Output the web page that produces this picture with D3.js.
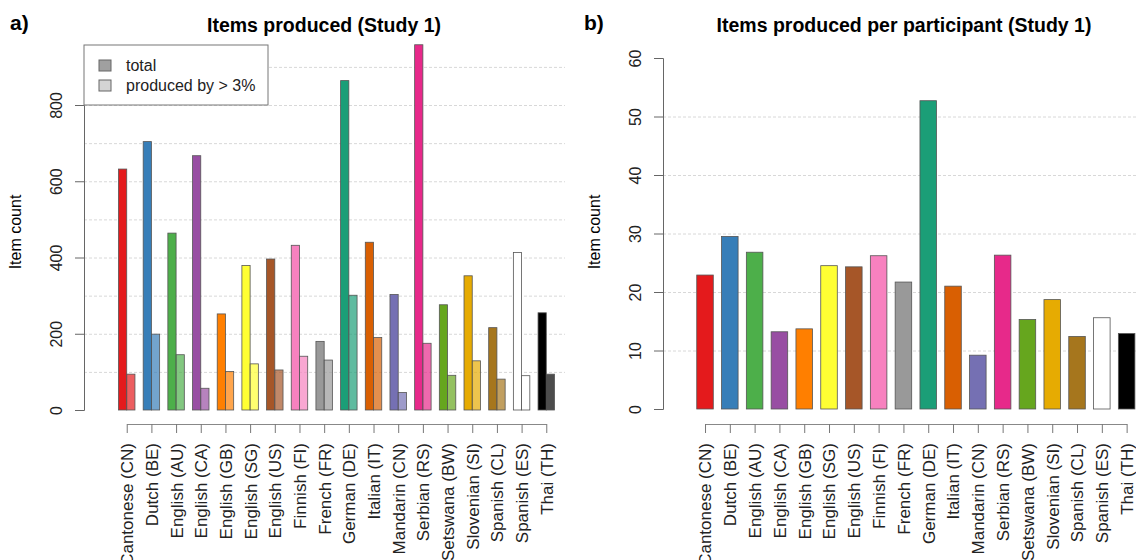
<!DOCTYPE html>
<html>
<head>
<meta charset="utf-8">
<style>
  body { margin: 0; background: #fff; }
  text { font-family: "Liberation Sans", Arial, sans-serif; }
</style>
</head>
<body>
<svg width="1136" height="560"></svg>
<script src="https://d3js.org/d3.v7.min.js"></script>
<script>
    // languages / samples
    var languages = ["Cantonese (CN)", "Dutch (BE)", "English (AU)", "English (CA)", "English (GB)",
        "English (SG)", "English (US)", "Finnish (FI)", "French (FR)", "German (DE)", "Italian (IT)",
        "Mandarin (CN)", "Serbian (RS)", "Setswana (BW)", "Slovenian (SI)", "Spanish (CL)",
        "Spanish (ES)", "Thai (TH)"];

    var colors = ["#E41A1C", "#377EB8", "#4DAF4A", "#984EA3", "#FF7F00", "#FFFF33", "#A65628",
        "#F781BF", "#999999", "#1B9E77", "#D95F02", "#7570B3", "#E7298A", "#66A61E", "#E6AB02",
        "#A6761D", "#FFFFFF", "#000000"];

    // panel a: total items and items produced by > 3%
    var totalItems = [632, 704, 464, 667, 252, 379, 396, 432, 180, 864, 440, 303, 958, 276, 352, 216, 413, 255];
    var commonItems = [94, 199, 145, 57, 101, 121, 105, 141, 131, 301, 190, 46, 175, 91, 129, 81, 90, 94];

    // panel b: items per participant
    var perParticipant = [22.9, 29.5, 26.8, 13.2, 13.7, 24.5, 24.3, 26.2, 21.7, 52.7, 21.0, 9.2, 26.3, 15.3, 18.7, 12.4, 15.6, 12.9];

    var ticksA = [0, 200, 400, 600, 800];
    var gridA = [100, 200, 300, 400, 500, 600, 700, 800, 900];
    var ticksB = [0, 10, 20, 30, 40, 50, 60];
    var gridB = [10, 20, 30, 40, 50];

    var legendLabels = ["total", "produced by > 3%"];
    var legendFills = ["#a0a0a0", "#d4d4d4"];

    var svg = d3.select("svg");

    // ---------- panel a ----------
    var yA = d3.scaleLinear().domain([0, 800]).range([410, 105]);
    var xA = d3.scaleBand().domain(languages).range([118.5, 554.5]).paddingInner(1 / 3).paddingOuter(0);
    var subA = d3.scaleBand().domain(["total", "common"]).range([0, xA.bandwidth()]);

    var gA = svg.append("g");

    gA.selectAll(".grid")
        .data(gridA)
        .enter().append("line")
        .attr("class", "grid")
        .attr("x1", 84).attr("x2", 565)
        .attr("y1", function (d) { return yA(d) + 0.5; })
        .attr("y2", function (d) { return yA(d) + 0.5; })
        .attr("stroke", "#d8d8d8")
        .attr("stroke-dasharray", "3,2");

    gA.append("g")
        .attr("transform", "translate(84,0)")
        .call(d3.axisLeft(yA).tickValues(ticksA).tickSize(9))
        .call(styleYAxis);

    var groupsA = gA.selectAll(".grpA")
        .data(languages)
        .enter().append("g")
        .attr("class", "grpA")
        .attr("transform", function (d) { return "translate(" + xA(d) + ",0)"; });

    groupsA.append("rect")
        .attr("x", subA("total"))
        .attr("width", subA.bandwidth())
        .attr("y", function (d, i) { return yA(totalItems[i]); })
        .attr("height", function (d, i) { return yA(0) - yA(totalItems[i]); })
        .attr("fill", function (d, i) { return colors[i]; })
        .attr("stroke", "#555")
        .attr("stroke-width", 0.8);

    groupsA.append("rect")
        .attr("x", subA("common"))
        .attr("width", subA.bandwidth())
        .attr("y", function (d, i) { return yA(commonItems[i]); })
        .attr("height", function (d, i) { return yA(0) - yA(commonItems[i]); })
        .attr("fill", function (d, i) { return colors[i]; })
        .attr("fill-opacity", 0.7)
        .attr("stroke", "#555")
        .attr("stroke-width", 0.8);

    var xAxisA = d3.scalePoint().domain(languages)
        .range([xA(languages[0]) + xA.bandwidth() / 2, xA(languages[languages.length - 1]) + xA.bandwidth() / 2]);

    svg.append("g")
        .attr("transform", "translate(0,424)")
        .call(d3.axisBottom(xAxisA).tickSize(9).tickSizeOuter(0))
        .call(styleXAxis);

    // legend
    var legend = gA.append("g").attr("transform", "translate(84,45)");
    legend.append("rect")
        .attr("width", 184).attr("height", 60)
        .attr("fill", "#fff")
        .attr("stroke", "#777");
    legend.selectAll(".key")
        .data(legendLabels)
        .enter().append("rect")
        .attr("x", 15)
        .attr("y", function (d, i) { return 15 + i * 20; })
        .attr("width", 12).attr("height", 11)
        .attr("fill", function (d, i) { return legendFills[i]; })
        .attr("stroke", "#666");
    legend.selectAll(".lab")
        .data(legendLabels)
        .enter().append("text")
        .attr("x", 42)
        .attr("y", function (d, i) { return 26 + i * 20; })
        .style("font-size", "16px")
        .attr("fill", "#222")
        .text(function (d) { return d; });

    svg.append("text")
        .attr("x", 324).attr("y", 32)
        .attr("text-anchor", "middle")
        .style("font-size", "19.5px").style("font-weight", "bold")
        .text("Items produced (Study 1)");

    svg.append("text")
        .attr("x", 10).attr("y", 30)
        .style("font-size", "21px").style("font-weight", "bold")
        .text("a)");

    svg.append("text")
        .attr("transform", "translate(21,232) rotate(-90)")
        .attr("text-anchor", "middle")
        .style("font-size", "16px")
        .text("Item count");

    // ---------- panel b ----------
    var yB = d3.scaleLinear().domain([0, 60]).range([409, 58]);
    var xB = d3.scaleBand().domain(languages).range([696.75, 1134.9]).paddingInner(1 / 3).paddingOuter(0);

    var gB = svg.append("g");

    gB.selectAll(".grid")
        .data(gridB)
        .enter().append("line")
        .attr("class", "grid")
        .attr("x1", 663).attr("x2", 1136)
        .attr("y1", function (d) { return yB(d) + 0.5; })
        .attr("y2", function (d) { return yB(d) + 0.5; })
        .attr("stroke", "#d8d8d8")
        .attr("stroke-dasharray", "3,2");

    gB.append("g")
        .attr("transform", "translate(663,0)")
        .call(d3.axisLeft(yB).tickValues(ticksB).tickSize(9))
        .call(styleYAxis);

    gB.selectAll(".barB")
        .data(languages)
        .enter().append("rect")
        .attr("class", "barB")
        .attr("x", function (d) { return xB(d); })
        .attr("width", xB.bandwidth())
        .attr("y", function (d, i) { return yB(perParticipant[i]); })
        .attr("height", function (d, i) { return yB(0) - yB(perParticipant[i]); })
        .attr("fill", function (d, i) { return colors[i]; })
        .attr("stroke", "#555")
        .attr("stroke-width", 0.8);

    var xAxisB = d3.scalePoint().domain(languages)
        .range([xB(languages[0]) + xB.bandwidth() / 2, xB(languages[languages.length - 1]) + xB.bandwidth() / 2]);

    svg.append("g")
        .attr("transform", "translate(0,424)")
        .call(d3.axisBottom(xAxisB).tickSize(9).tickSizeOuter(0))
        .call(styleXAxis);

    svg.append("text")
        .attr("x", 904).attr("y", 32)
        .attr("text-anchor", "middle")
        .style("font-size", "19.5px").style("font-weight", "bold")
        .text("Items produced per participant (Study 1)");

    svg.append("text")
        .attr("x", 584).attr("y", 30)
        .style("font-size", "21px").style("font-weight", "bold")
        .text("b)");

    svg.append("text")
        .attr("transform", "translate(600,232) rotate(-90)")
        .attr("text-anchor", "middle")
        .style("font-size", "16px")
        .text("Item count");

    function styleYAxis(g) {
        g.select(".domain").attr("stroke", "#666");
        g.selectAll(".tick line").attr("stroke", "#666");
        g.selectAll(".tick text")
            .attr("transform", "rotate(-90,-22,0)")
            .attr("x", -22).attr("dy", "0")
            .attr("text-anchor", "middle")
            .attr("fill", "#222")
            .style("font-size", "16px");
    }

    function styleXAxis(g) {
        g.select(".domain").attr("stroke", "#888");
        g.selectAll(".tick line").attr("stroke", "#777");
        g.selectAll(".tick text")
            .attr("transform", "rotate(-90)")
            .attr("x", -19).attr("y", 0).attr("dy", "0.35em")
            .attr("text-anchor", "end")
            .attr("fill", "#222")
            .style("font-size", "17px");
    }
</script>
</body>
</html>
